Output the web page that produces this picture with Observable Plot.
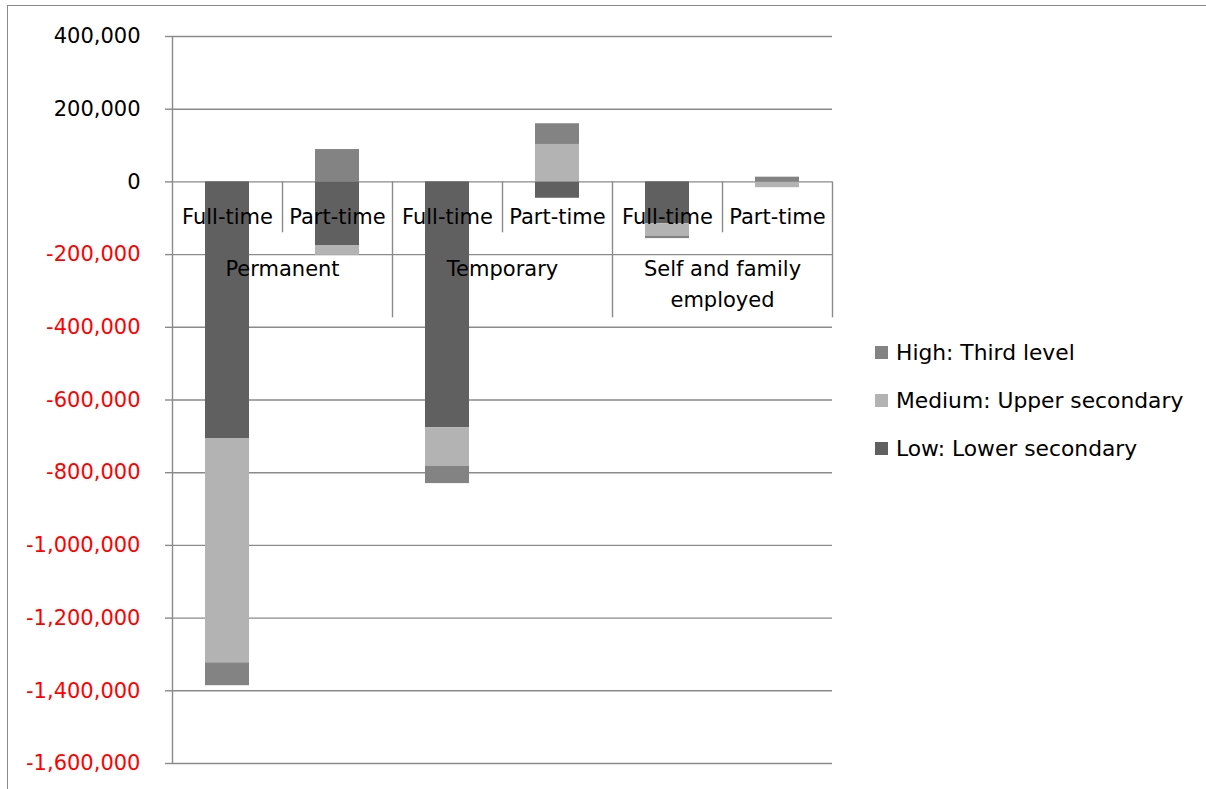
<!DOCTYPE html>
<html>
<head>
<meta charset="utf-8">
<script src="https://cdn.jsdelivr.net/npm/d3@7"></script>
<script src="https://cdn.jsdelivr.net/npm/@observablehq/plot@0.6"></script>
<style>
  html, body { margin: 0; padding: 0; background: #fff; }
  #wrap { position: relative; width: 1206px; height: 789px; overflow: hidden; font-family: "DejaVu Sans", sans-serif; }
  #border { position: absolute; left: 7px; top: 5px; width: 1300px; height: 900px; border-left: 1.5px solid #8a8a8a; border-top: 1.5px solid #8a8a8a; pointer-events: none; }
  #legend { position: absolute; left: 875px; top: 328px; font-size: 21.8px; color: #000; }
  #legend .row { height: 48px; display: flex; align-items: center; }
  #legend .sw { width: 13px; height: 13px; margin-right: 8px; }
  svg { position: absolute; left: 0; top: 0; }
</style>
</head>
<body>
<div id="wrap">
  <div id="chart"></div>
  <div id="border"></div>
  <div id="legend"></div>
</div>
<script>
// ---- data ----
const groups = ["Permanent", "Permanent", "Temporary", "Temporary", "Self and family employed", "Self and family employed"];
const types = ["Full-time", "Part-time", "Full-time", "Part-time", "Full-time", "Part-time"];
const groupNames = ["Permanent", "Temporary", "Self and family employed"];
const groupLabels = ["Permanent", "Temporary", "Self and family\nemployed"];
const typeNames = ["Full-time", "Part-time"];
const seriesNames = ["Low: Lower secondary", "Medium: Upper secondary", "High: Third level"];
const seriesColors = ["#606060", "#b3b3b3", "#838383"];
const low = [-706000, -175000, -676000, -45000, -115000, -1000];
const medium = [-617000, -27000, -107000, 103000, -34000, -15000];
const high = [-63000, 89000, -47000, 57000, -7000, 13000];
const posTicks = [400000, 200000, 0];
const negTicks = [-200000, -400000, -600000, -800000, -1000000, -1200000, -1400000, -1600000];
const allTicks = posTicks.concat(negTicks);

// ---- build table ----
const seriesValues = [low, medium, high];
const rows = [];
groups.forEach((g, i) => {
  seriesNames.forEach((s, j) => rows.push({group: g, type: types[i], series: s, value: seriesValues[j][i]}));
});
const cats = groups.map((g, i) => ({group: g, type: types[i]}));
const partCats = cats.filter(d => d.type === "Part-time");

const gridColor = "#8a8a8a";
const fmt = d => d3.format(",")(d).replace("\u2212", "-");

const chart = Plot.plot({
  width: 1206,
  height: 789,
  marginLeft: 172,
  marginRight: 374,
  marginTop: 36,
  marginBottom: 26,
  style: {fontFamily: "DejaVu Sans, sans-serif", fontSize: "21px", background: "transparent", overflow: "visible"},
  fx: {domain: groupNames, padding: 0, axis: null, label: null},
  x: {domain: typeNames, paddingInner: 0.6, paddingOuter: 0.3, axis: null, label: null},
  y: {domain: [-1600000, 400000], axis: null, label: null},
  color: {domain: seriesNames, range: seriesColors},
  marks: [
    Plot.gridY(allTicks, {stroke: gridColor, strokeOpacity: 1, strokeWidth: 1.4}),
    Plot.barY(rows, {fx: "group", x: "type", y: "value", fill: "series"}),
    // vertical value axis line
    Plot.ruleX([cats[0]], {fx: "group", x: "type", dx: -55, y1: () => -1600000, y2: () => 400000, stroke: gridColor, strokeWidth: 1.4}),
    // separators between Full-time and Part-time
    Plot.ruleX(partCats, {fx: "group", x: "type", dx: -55, y1: () => 0, y2: () => -140000, stroke: gridColor, strokeWidth: 1.4}),
    // separators after each group
    Plot.ruleX(partCats, {fx: "group", x: "type", dx: 55, y1: () => 0, y2: () => -374000, stroke: gridColor, strokeWidth: 1.4}),
    Plot.axisY(posTicks, {tickSize: 7, tickPadding: 25, stroke: gridColor, strokeWidth: 1.4, fill: "#000", tickFormat: fmt, fontSize: 21}),
    Plot.axisY(negTicks, {tickSize: 7, tickPadding: 25, stroke: gridColor, strokeWidth: 1.4, fill: "#ff0000", tickFormat: fmt, fontSize: 21}),
    Plot.text(cats, {fx: "group", x: "type", y: () => 0, dy: 35, text: "type", fontSize: 21, fill: "#000"}),
    Plot.text(groupNames, {fx: d => d, y: () => 0, dy: 71, lineAnchor: "top", lineHeight: 1.52, text: (d, i) => groupLabels[i], fontSize: 21, fill: "#000"})
  ]
});
document.getElementById("chart").appendChild(chart);

// legend (reverse order as in the reference)
const legend = document.getElementById("legend");
for (let j = seriesNames.length - 1; j >= 0; j--) {
  const row = document.createElement("div");
  row.className = "row";
  const sw = document.createElement("div");
  sw.className = "sw";
  sw.style.background = seriesColors[j];
  const t = document.createElement("span");
  t.textContent = seriesNames[j];
  row.appendChild(sw);
  row.appendChild(t);
  legend.appendChild(row);
}
</script>
</body>
</html>
